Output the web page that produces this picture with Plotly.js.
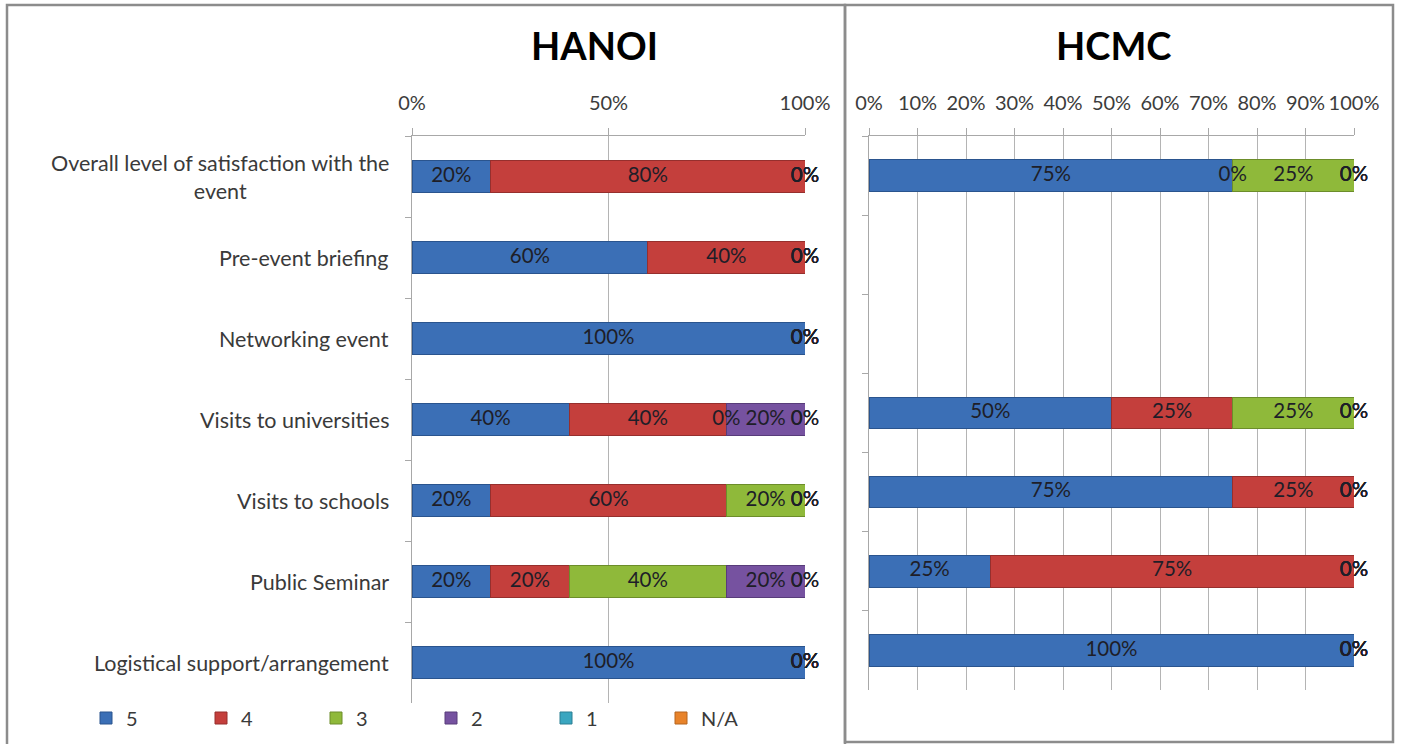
<!DOCTYPE html>
<html>
<head>
<meta charset="utf-8">
<script src="https://cdn.plot.ly/plotly-3.0.1.min.js"></script>
<style>html,body{margin:0;padding:0;background:#fff;}#chart{width:1401px;height:744px;}</style>
</head>
<body>
<div id="chart"></div>
<script>
// ---- data ----
const categories = [
  "Overall level of satisfaction with the event",
  "Pre-event briefing",
  "Networking event",
  "Visits to universities",
  "Visits to schools",
  "Public Seminar",
  "Logistical support/arrangement"
];
const categoryLabels = [
  "Overall level of satisfaction with the<br>event",
  "Pre-event briefing",
  "Networking event",
  "Visits to universities",
  "Visits to schools",
  "Public Seminar",
  "Logistical support/arrangement"
];
const seriesNames = ["5", "4", "3", "2", "1", "N/A"];

const hanoi5  = [20, 60, 100, 40, 20, 20, 100];
const hanoi4  = [80, 40, 0, 40, 60, 20, 0];
const hanoi3  = [0, 0, 0, 0, 20, 40, 0];
const hanoi2  = [0, 0, 0, 20, 0, 20, 0];
const hanoi1  = [0, 0, 0, 0, 0, 0, 0];
const hanoiNA = [0, 0, 0, 0, 0, 0, 0];

const hcmc5  = [75, null, null, 50, 75, 25, 100];
const hcmc4  = [0, null, null, 25, 25, 75, 0];
const hcmc3  = [25, null, null, 25, 0, 0, 0];
const hcmc2  = [0, null, null, 0, 0, 0, 0];
const hcmc1  = [0, null, null, 0, 0, 0, 0];
const hcmcNA = [0, null, null, 0, 0, 0, 0];

const hanoiTicks = [0, 50, 100];
const hcmcTicks = [0, 10, 20, 30, 40, 50, 60, 70, 80, 90, 100];

// ---- styling ----
const colors = ["#3b6fb6", "#c43f3c", "#8fb93a", "#7652a0", "#3aa6c0", "#e8832a"];
const lineColors = ["#2a548e", "#962f2d", "#6c8d2a", "#583c7a", "#2a7f93", "#b5641f"];
const FONT = "Lato, 'Open Sans', sans-serif";

const hanoiSeries = [hanoi5, hanoi4, hanoi3, hanoi2, hanoi1, hanoiNA];
const hcmcSeries = [hcmc5, hcmc4, hcmc3, hcmc2, hcmc1, hcmcNA];

const traces = [];
function addPanel(series, xa, ya, showLegend) {
  series.forEach((vals, i) => {
    traces.push({
      type: "bar", orientation: "h",
      x: vals, y: categories,
      name: seriesNames[i], legendgroup: seriesNames[i],
      showlegend: showLegend,
      xaxis: xa, yaxis: ya,
      marker: { color: colors[i], line: { color: lineColors[i], width: 1 } },
      hoverinfo: "x+name"
    });
  });
  // data labels at the middle of each stacked segment
  const lx = [], ly = [], lt = [];
  categories.forEach((c, j) => {
    let cum = 0;
    series.forEach(vals => {
      const v = vals[j];
      if (v === null || v === undefined) return;
      lx.push(cum + v / 2); ly.push(c); lt.push(v + "%");
      cum += v;
    });
  });
  traces.push({
    type: "scatter", mode: "text", x: lx, y: ly, text: lt,
    textposition: "middle center",
    textfont: { family: FONT, size: 20.5, color: "#1e1e28" },
    xaxis: xa, yaxis: ya, showlegend: false, hoverinfo: "skip", cliponaxis: false
  });
}
addPanel(hanoiSeries, "x", "y", true);
addPanel(hcmcSeries, "x2", "y2", false);

const W = 1401, H = 744;
const px = v => v / W, py = v => 1 - v / H;

const axisX = {
  side: "top", range: [0, 100], tickmode: "array",
  showgrid: true, gridcolor: "#b4b4b4", gridwidth: 1,
  showline: true, linecolor: "#a8a8a8", linewidth: 1,
  ticks: "outside", ticklen: 7, tickcolor: "#a8a8a8",
  tickfont: { family: FONT, size: 20, color: "#3c3c3c" },
  zeroline: false, fixedrange: true, ticklabelstandoff: 10
};
const axisY = {
  type: "category", categoryorder: "array", categoryarray: categories,
  autorange: "reversed",
  showline: true, linecolor: "#a8a8a8", linewidth: 1,
  ticks: "outside", tickson: "boundaries", ticklen: 6, tickcolor: "#a8a8a8",
  showticklabels: false, showgrid: false, zeroline: false, fixedrange: true
};

const annotations = [
  { text: "<b>HANOI</b>", xref: "paper", yref: "paper", x: px(594), y: py(45),
    xanchor: "center", yanchor: "middle", showarrow: false,
    font: { family: FONT, size: 38, color: "#000" } },
  { text: "<b>HCMC</b>", xref: "paper", yref: "paper", x: px(1113), y: py(45),
    xanchor: "center", yanchor: "middle", showarrow: false,
    font: { family: FONT, size: 38, color: "#000" } }
];
categories.forEach((c, j) => {
  annotations.push({
    text: categoryLabels[j], xref: "paper", yref: "y", x: px(391), y: c,
    xanchor: "right", yanchor: "middle", align: "center", showarrow: false,
    font: { family: FONT, size: 21.5, color: "#3a3a3a" }
  });
});

const layout = {
  width: W, height: H,
  margin: { l: 0, r: 0, t: 0, b: 0 },
  paper_bgcolor: "#fff", plot_bgcolor: "rgba(0,0,0,0)",
  barmode: "stack", bargap: 0.6,
  font: { family: FONT, color: "#3a3a3a" },
  xaxis: Object.assign({}, axisX, { domain: [px(412), px(805)], anchor: "y",
    tickvals: hanoiTicks, ticktext: hanoiTicks.map(v => v + "%") }),
  yaxis: Object.assign({}, axisY, { domain: [py(703), py(136)], anchor: "x" }),
  xaxis2: Object.assign({}, axisX, { domain: [px(869), px(1354)], anchor: "y2",
    tickvals: hcmcTicks, ticktext: hcmcTicks.map(v => v + "%") }),
  yaxis2: Object.assign({}, axisY, { domain: [py(690), py(136)], anchor: "x2" }),
  showlegend: true,
  legend: {
    orientation: "h", x: px(86), y: py(718), xanchor: "left", yanchor: "middle",
    entrywidth: 70, entrywidthmode: "pixels", itemwidth: 30,
    font: { family: FONT, size: 20, color: "#3a3a3a" },
    traceorder: "normal", bgcolor: "rgba(0,0,0,0)"
  },
  annotations: annotations,
  shapes: [
    { type: "rect", xref: "paper", yref: "paper", x0: px(7), x1: px(845), y0: py(752), y1: py(5),
      line: { color: "#8c8c8c", width: 2.5 }, fillcolor: "rgba(0,0,0,0)", layer: "below" },
    { type: "rect", xref: "paper", yref: "paper", x0: px(845), x1: px(1393), y0: py(742), y1: py(5),
      line: { color: "#8c8c8c", width: 2.5 }, fillcolor: "rgba(0,0,0,0)", layer: "below" }
  ]
};

Plotly.newPlot("chart", traces, layout, { displayModeBar: false, staticPlot: true });
</script>
</body>
</html>
